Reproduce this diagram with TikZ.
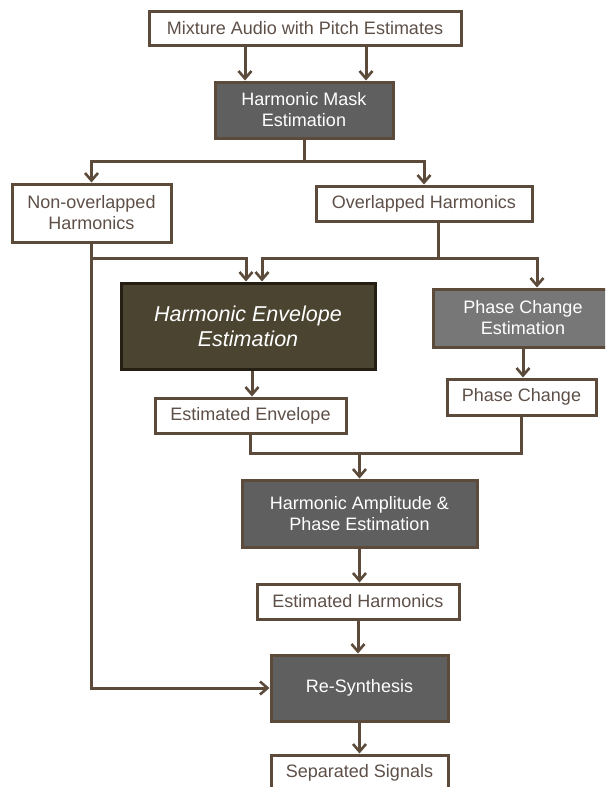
\documentclass[tikz,border=0pt]{standalone}
\usepackage{fontspec}
\setmainfont{Liberation Sans}
\usetikzlibrary{arrows.meta}
\definecolor{ln}{HTML}{5C4A3B}
\definecolor{txt}{HTML}{5E5048}
\definecolor{dk}{HTML}{5F5F5F}
\definecolor{olive}{HTML}{4A4430}
\definecolor{olivebd}{HTML}{241F12}
\definecolor{mid}{HTML}{777777}
\tikzset{
  base/.style={rectangle, line width=3pt, align=center, inner sep=0pt,
    font=\fontsize{18}{21}\selectfont},
  whitebox/.style={base, draw=ln, fill=white, text=txt},
  darkbox/.style={base, draw=ln, fill=dk, text=white},
  midbox/.style={base, draw=ln, fill=mid, text=white},
  envbox/.style={base, draw=olivebd, fill=olive, text=white,
    font=\fontsize{21.5}{25}\selectfont\itshape},
  conn/.style={draw=ln, line width=3pt},
  arr/.style={conn, -{Straight Barb[length=7.5pt,width=13pt,line width=2.6pt]}}
}
\begin{document}
\begin{tikzpicture}[x=1pt,y=-1pt]
\clip (0,0) rectangle (605,787);
\useasboundingbox (0,0) rectangle (605,787);
\fill[white] (0,0) rectangle (605,787);

\node[whitebox, minimum width=312pt, minimum height=34pt] (mix) at (305,28) {Mixture Audio with Pitch Estimates};
\node[darkbox, minimum width=178pt, minimum height=56pt] (hme) at (304,110) {Harmonic Mask\\Estimation};
\node[whitebox, minimum width=159pt, minimum height=58pt] (non) at (91.5,213) {Non-overlapped\\Harmonics};
\node[whitebox, minimum width=216pt, minimum height=35pt] (ovl) at (424,203.5) {Overlapped Harmonics};
\node[envbox, minimum width=254pt, minimum height=86pt] (hee) at (248,326) {Harmonic Envelope\\Estimation};
\node[midbox, minimum width=180pt, minimum height=58pt] (pce) at (523,318) {Phase Change\\Estimation};
\node[whitebox, minimum width=149pt, minimum height=36pt] (pc) at (521.5,397) {Phase Change};
\node[whitebox, minimum width=191pt, minimum height=35pt] (env) at (250.5,415.5) {Estimated Envelope};
\node[darkbox, minimum width=235pt, minimum height=67pt] (hape) at (359.5,513.5) {Harmonic Amplitude \&\\Phase Estimation};
\node[whitebox, minimum width=202pt, minimum height=35pt] (esth) at (358,601.5) {Estimated Harmonics};
\node[darkbox, minimum width=177pt, minimum height=66pt] (res) at (359.5,688) {Re-Synthesis};
\node[whitebox, minimum width=177pt, minimum height=36pt] (sep) at (359.5,773) {Separated Signals};

% top arrows
\draw[arr] ([xshift=-60pt]mix.south) -- ([xshift=-60pt]mix.south |- hme.north);
\draw[arr] ([xshift=61pt]mix.south) -- ([xshift=61pt]mix.south |- hme.north);

% split
\coordinate (s1) at (304,161);
\draw[conn] (hme.south) -- (s1);
\draw[arr] (s1) -| (non.north);
\draw[arr] (s1) -| (ovl.north);

% to HEE and PCE
\coordinate (a1) at (246,258);
\coordinate (a2) at (262,258);
\coordinate (a3) at (537,258);
\coordinate (b0) at (438,221);
\draw[arr] (non.south) |- (a1) -- (a1 |- hee.north);
\draw[arr] (b0) |- (a2) -- (a2 |- hee.north);
\draw[arr] (b0) |- (a3) -- (a3 |- pce.north);
\draw[arr] (non.south) |- (res.west);

% HEE -> env, PCE -> pc
\draw[arr] ([xshift=4pt]hee.south) -- ([xshift=4pt]hee.south |- env.north);
\draw[arr] (pce.south) -- (pce.south |- pc.north);

% merge
\coordinate (m) at (359.5,453);
\draw[conn] (pc.south) |- (m);
\draw[arr] (env.south) |- (m) -- (hape.north);

\draw[arr] (hape.south) -- (hape.south |- esth.north);
\draw[arr] (esth.south) -- (esth.south |- res.north);
\draw[arr] (res.south) -- (res.south |- sep.north);
\end{tikzpicture}
\end{document}
